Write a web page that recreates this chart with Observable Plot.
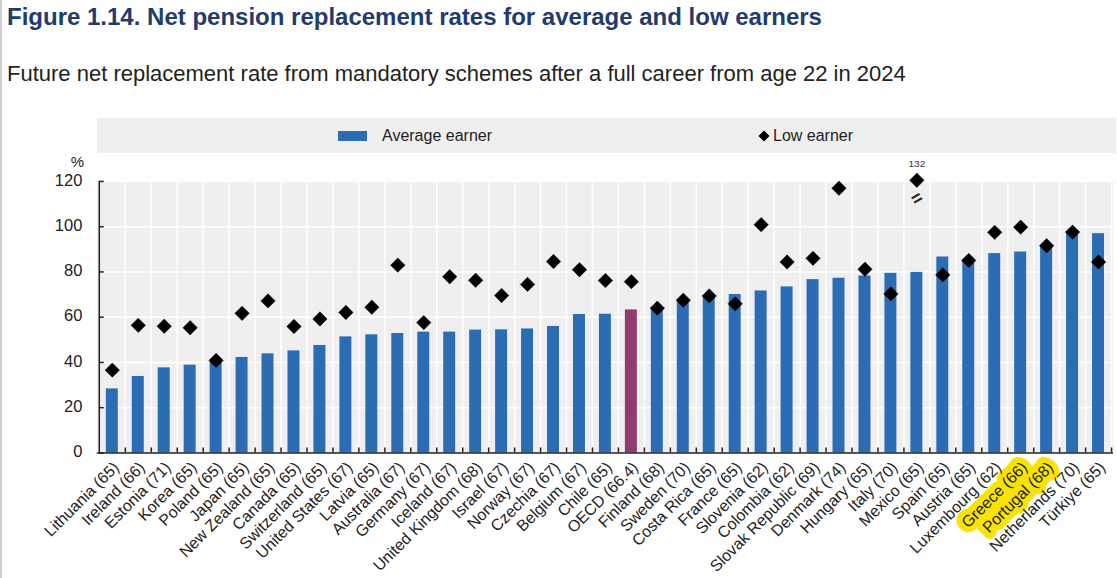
<!DOCTYPE html>
<html>
<head>
<meta charset="utf-8">
<script src="https://cdn.jsdelivr.net/npm/d3@7"></script>
<script src="https://cdn.jsdelivr.net/npm/@observablehq/plot@0.6"></script>
<style>
  html, body { margin: 0; padding: 0; background: #fff; }
  #page { position: relative; width: 1117px; height: 578px; overflow: hidden; font-family: "Liberation Sans", Arial, sans-serif; border-left: 2px solid #d0d0d0; box-sizing: border-box; }
  #title { position: absolute; left: 5px; top: 3px; font-size: 24px; font-weight: bold; color: #1f3b6f; white-space: nowrap; }
  #subtitle { position: absolute; left: 5px; top: 61px; font-size: 22px; color: #222; white-space: nowrap; }
  #legend { position: absolute; left: 95px; top: 118px; width: 1019px; height: 35px; background: #efefef; font-size: 16px; color: #222; }
  .lg { position: absolute; top: 0; height: 35px; display: flex; align-items: center; }
  #chart { position: absolute; left: 0; top: 145px; }
</style>
</head>
<body>
<div id="page">
  <div id="title">Figure 1.14. Net pension replacement rates for average and low earners</div>
  <div id="subtitle">Future net replacement rate from mandatory schemes after a full career from age 22 in 2024</div>
  <div id="legend">
    <div class="lg" style="left:241px"><span style="display:inline-block;width:29px;height:10px;background:#2b6cb5;margin-right:15px"></span>Average earner</div>
    <div class="lg" style="left:661px"><svg width="12" height="12" style="margin-right:3px"><path d="M6,0.5L11.5,6L6,11.5L0.5,6Z" fill="#000"/></svg>Low earner</div>
  </div>
  <div id="chart"></div>
</div>
<script>
const categories = ["Lithuania (65)","Ireland (66)","Estonia (71)","Korea (65)","Poland (65)","Japan (65)","New Zealand (65)","Canada (65)","Switzerland (65)","United States (67)","Latvia (65)","Australia (67)","Germany (67)","Iceland (67)","United Kingdom (68)","Israel (67)","Norway (67)","Czechia (67)","Belgium (67)","Chile (65)","OECD (66.4)","Finland (68)","Sweden (70)","Costa Rica (65)","France (65)","Slovenia (62)","Colombia (62)","Slovak Republic (69)","Denmark (74)","Hungary (65)","Italy (70)","Mexico (65)","Spain (65)","Austria (65)","Luxembourg (62)","Greece (66)","Portugal (68)","Netherlands (70)","Türkiye (65)"];
const averageEarner = [28.3,33.8,37.6,38.8,40.3,42.2,43.8,45.1,47.5,51.3,52.2,52.8,53.4,53.4,54.3,54.4,54.8,55.9,61.2,61.3,63.2,63.6,66.6,68.6,70.0,71.6,73.4,76.6,77.2,78.2,79.4,79.8,86.6,85.2,88.1,88.8,91.0,97.3,96.9];
const lowEarner = [36.6,56.4,56.0,55.3,40.9,61.7,67.2,55.9,59.2,62.1,64.4,83.0,57.6,77.9,76.3,69.6,74.5,84.6,81.0,76.2,75.7,64.0,67.5,69.4,65.9,100.9,84.4,86.0,117.0,81.2,70.3,132,78.7,85.1,97.5,99.8,91.6,97.6,84.4];
const yTicks = [0,20,40,60,80,100,120];
const highlighted = ["Greece (66)","Portugal (68)"];
const oecdLabel = "OECD (66.4)";

const data = categories.map((c, i) => ({country: c, avg: averageEarner[i], low: lowEarner[i]}));
const W = 1117, ML = 95, MR = 4;
const step = (W - ML - MR) / categories.length;
const padIn = 0.54, padOut = 0.27;
const bandW = (1 - padIn) * step;
const blue = "#2b6cb5", purple = "#913b6e";
const yMax = 120;
const first = () => categories[0];

const plot = Plot.plot({
  width: W,
  height: 433,
  marginLeft: ML,
  marginRight: MR,
  marginTop: 36,
  marginBottom: 125,
  style: {fontFamily: "'Liberation Sans', Arial, sans-serif", background: "transparent"},
  x: {type: "band", domain: categories, paddingInner: padIn, paddingOuter: padOut, align: 0.5, axis: null},
  y: {domain: [0, yMax], axis: null},
  color: {type: "identity"},
  marks: [
    Plot.frame({fill: "#efefef", stroke: null}),
    Plot.ruleY(yTicks.slice(1), {stroke: "white", strokeWidth: 1.5}),
    Plot.tickX(categories, {x: d => d, dx: step / 2, stroke: "white", strokeWidth: 1.5}),
    Plot.barY(data, {x: "country", y: "avg", fill: d => d.country === oecdLabel ? purple : blue}),
    Plot.dot(data, {x: "country", y: d => Math.min(d.low, yMax + 0.5), symbol: "diamond2", fill: "black", stroke: "black", strokeWidth: 0.5, r: 6.5}),
    Plot.text(data.filter(d => d.low > yMax), {x: "country", y: yMax, text: d => String(d.low), dy: -18, fontSize: 10, fill: "#333"}),
    Plot.text(data.filter(d => d.low > yMax), {x: "country", y: yMax - 7.5, text: d => "=", rotate: -30, fontSize: 18, fontWeight: "bold", fill: "#222"}),
    Plot.ruleY([0], {stroke: "#222", strokeWidth: 1.5}),
    Plot.ruleX([categories[0]], {x: d => d, dx: -step / 2, y1: 0, y2: yMax, stroke: "#222", strokeWidth: 1.5}),
    Plot.tickY(yTicks, {y: d => d, x: first, dx: -padOut * step, insetRight: bandW - 5, stroke: "#222", strokeWidth: 1.5}),
    Plot.text(yTicks, {y: d => d, x: first, dx: -step / 2 - 17, dy: -1, text: d => String(d), textAnchor: "end", fontSize: 16.5, fill: "#222"}),
    Plot.text(["%"], {x: first, y: () => yMax, dx: -step / 2 - 22, dy: -19, text: d => d, fontSize: 15, fill: "#222"}),
    Plot.tickX(categories, {x: d => d, dx: step / 2, stroke: "#222", strokeWidth: 1.5, insetTop: 267}),
    Plot.text(highlighted, {x: d => d, y: () => 0, text: d => d, rotate: -45, textAnchor: "end", dx: 4, dy: 12, fontSize: 16, fill: "#f8e400", stroke: "#f8e400", strokeWidth: 12, strokeLinejoin: "round"}),
    Plot.text(categories, {x: d => d, y: () => 0, text: d => d, rotate: -45, textAnchor: "end", dx: 4, dy: 12, fontSize: 16, fill: "#222"})
  ]
});
document.getElementById("chart").appendChild(plot);
</script>
</body>
</html>
